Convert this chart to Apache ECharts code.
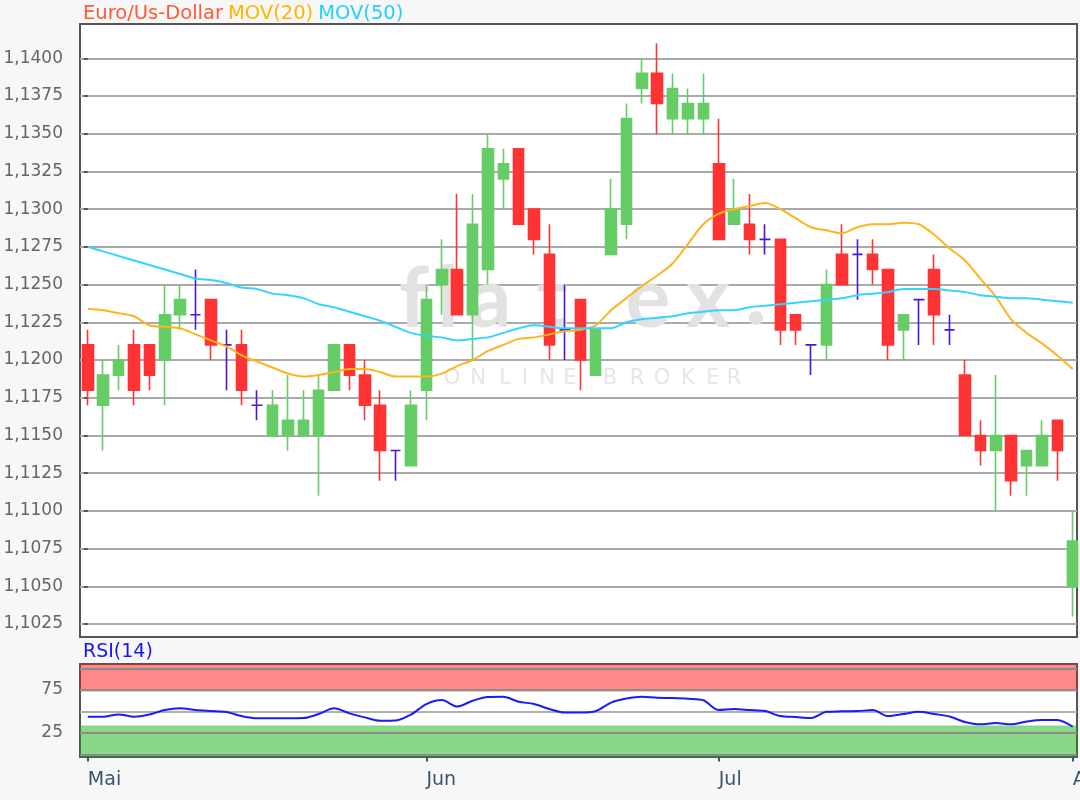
<!DOCTYPE html>
<html>
<head>
<meta charset="utf-8">
<script src="https://cdn.jsdelivr.net/npm/echarts@6/dist/echarts.min.js"></script>
<style>
html,body{margin:0;padding:0;background:#f7f7f7;}
#chart{width:1080px;height:800px;}
</style>
</head>
<body>
<div id="chart"></div>
<script>
// ---------- data ----------
const dates = [
  '2019-05-02','2019-05-03','2019-05-06','2019-05-07','2019-05-08','2019-05-09','2019-05-10',
  '2019-05-13','2019-05-14','2019-05-15','2019-05-16','2019-05-17','2019-05-20','2019-05-21',
  '2019-05-22','2019-05-23','2019-05-24','2019-05-27','2019-05-28','2019-05-29','2019-05-30','2019-05-31',
  '2019-06-03','2019-06-04','2019-06-05','2019-06-06','2019-06-07','2019-06-11','2019-06-12',
  '2019-06-13','2019-06-14','2019-06-17','2019-06-18','2019-06-19','2019-06-20','2019-06-21',
  '2019-06-24','2019-06-25','2019-06-26','2019-06-27','2019-06-28',
  '2019-07-01','2019-07-02','2019-07-03','2019-07-04','2019-07-05','2019-07-08','2019-07-09',
  '2019-07-10','2019-07-11','2019-07-12','2019-07-15','2019-07-16','2019-07-17','2019-07-18',
  '2019-07-19','2019-07-22','2019-07-23','2019-07-24','2019-07-25','2019-07-26','2019-07-29',
  '2019-07-30','2019-07-31',
  '2019-08-01'
];
const openP = [
  1.1210,1.1170,1.1190,1.1210,1.1210,1.1200,1.1230,1.1230,1.1240,1.1210,1.1210,1.1170,1.1150,1.1150,
  1.1150,1.1150,1.1180,1.1210,1.1190,1.1170,1.1140,1.1130,
  1.1180,1.1250,1.1260,1.1230,1.1260,1.1320,1.1340,1.1300,1.1270,1.1220,1.1240,1.1190,1.1270,1.1290,
  1.1380,1.1390,1.1360,1.1360,1.1360,
  1.1330,1.1290,1.1290,1.1280,1.1280,1.1230,1.1210,1.1210,1.1270,1.1270,1.1270,1.1260,1.1220,1.1240,
  1.1260,1.1220,1.1190,1.1150,1.1140,1.1150,1.1130,1.1130,1.1160,
  1.1050
];
const closeP = [
  1.1180,1.1190,1.1200,1.1180,1.1190,1.1230,1.1240,1.1230,1.1210,1.1210,1.1180,1.1170,1.1170,1.1160,
  1.1160,1.1180,1.1210,1.1190,1.1170,1.1140,1.1140,1.1170,
  1.1240,1.1260,1.1230,1.1290,1.1340,1.1330,1.1290,1.1280,1.1210,1.1220,1.1200,1.1220,1.1300,1.1360,
  1.1390,1.1370,1.1380,1.1370,1.1370,
  1.1280,1.1300,1.1280,1.1280,1.1220,1.1220,1.1210,1.1250,1.1250,1.1270,1.1260,1.1210,1.1230,1.1240,
  1.1230,1.1220,1.1150,1.1140,1.1150,1.1120,1.1140,1.1150,1.1140,
  1.1080
];
const lowP = [
  1.1170,1.1140,1.1180,1.1170,1.1180,1.1170,1.1220,1.1220,1.1200,1.1180,1.1170,1.1160,1.1150,1.1140,
  1.1150,1.1110,1.1180,1.1180,1.1160,1.1120,1.1120,1.1130,
  1.1160,1.1230,1.1230,1.1200,1.1250,1.1300,1.1290,1.1270,1.1200,1.1200,1.1180,1.1190,1.1270,1.1280,
  1.1370,1.1350,1.1350,1.1350,1.1350,
  1.1280,1.1290,1.1270,1.1270,1.1210,1.1210,1.1190,1.1200,1.1250,1.1240,1.1250,1.1200,1.1200,1.1210,
  1.1210,1.1210,1.1150,1.1130,1.1100,1.1110,1.1110,1.1130,1.1120,
  1.1030
];
const highP = [
  1.1220,1.1200,1.1210,1.1220,1.1210,1.1250,1.1250,1.1260,1.1240,1.1220,1.1220,1.1180,1.1180,1.1190,
  1.1180,1.1190,1.1210,1.1210,1.1200,1.1180,1.1140,1.1180,
  1.1250,1.1280,1.1310,1.1310,1.1350,1.1340,1.1340,1.1300,1.1290,1.1250,1.1240,1.1220,1.1320,1.1370,
  1.1400,1.1410,1.1390,1.1380,1.1390,
  1.1360,1.1320,1.1310,1.1290,1.1280,1.1230,1.1210,1.1260,1.1290,1.1280,1.1280,1.1260,1.1230,1.1240,
  1.1270,1.1230,1.1200,1.1160,1.1190,1.1150,1.1140,1.1160,1.1160,
  1.1100
];
const ma20 = [
  1.1234,1.1233,1.1231,1.1229,1.1223,1.1222,1.1221,1.1217,1.1213,1.1209,1.1203,1.1199,1.1195,1.1191,
  1.1189,1.1190,1.1192,1.1194,1.1194,1.1192,1.1189,1.1189,
  1.1189,1.1191,1.1196,1.1200,1.1206,1.1210,1.1214,1.1215,1.1217,1.1219,1.1220,1.1223,1.1233,1.1241,
  1.1249,1.1256,1.1264,1.1277,1.1290,
  1.1297,1.1300,1.1302,1.1304,1.1300,1.1294,1.1288,1.1286,1.1284,1.1288,1.1290,1.1290,1.1291,1.1290,
  1.1283,1.1274,1.1266,1.1254,1.1242,1.1227,1.1218,1.1211,1.1203,
  1.1194
];
const ma50 = [
  1.1275,1.1272,1.1269,1.1266,1.1263,1.1260,1.1257,1.1254,1.1253,1.1251,1.1248,1.1247,1.1244,1.1243,
  1.1241,1.1237,1.1235,1.1232,1.1229,1.1226,1.1222,1.1218,
  1.1216,1.1215,1.1213,1.1214,1.1215,1.1218,1.1221,1.1223,1.1222,1.1221,1.1221,1.1221,1.1221,1.1225,
  1.1227,1.1228,1.1229,1.1231,1.1232,
  1.1233,1.1233,1.1235,1.1236,1.1237,1.1238,1.1239,1.1240,1.1241,1.1243,1.1244,1.1245,1.1247,1.1247,
  1.1247,1.1246,1.1245,1.1243,1.1242,1.1241,1.1241,1.1240,1.1239,
  1.1238
];
const rsi14 = [
  43.7,43.7,46.5,43.7,46.3,51.5,53.5,51.5,50.3,49.2,44.5,41.9,41.9,41.9,
  42.2,46.9,53.5,47.7,43.0,39.1,39.3,46.3,
  58.5,63.1,55.6,62.3,66.6,67.0,61.2,58.5,52.7,48.6,48.6,50.3,60.2,64.9,
  67.0,65.8,65.5,64.7,62.9,
  51.5,52.7,51.5,50.3,44.5,43.4,42.2,49.5,50.0,50.3,51.5,44.5,46.9,49.5,
  46.9,44.0,37.6,34.9,36.4,34.9,38.1,39.9,39.9,
  32.1
];
const priceTicks = [1.1025,1.1050,1.1075,1.1100,1.1125,1.1150,1.1175,1.1200,
                    1.1225,1.1250,1.1275,1.1300,1.1325,1.1350,1.1375,1.1400];
const rsiTicks = [25, 75];
const rsiGridLines = [0, 25, 50, 75, 100];
const rsiOverbought = [73, 105];
const rsiOversold = [-3, 33.5];
const monthNames = {'05':'Mai','06':'Jun','07':'Jul','08':'Aug'};

// ---------- derived ----------
const monthStarts = [];
const monthLabel = {};
dates.forEach((d, i) => {
  const m = d.slice(5, 7);
  if (i === 0 || dates[i - 1].slice(5, 7) !== m) { monthStarts.push(i); monthLabel[i] = monthNames[m]; }
});
const candleData = dates.map((d, i) => [i, openP[i], closeP[i], lowP[i], highP[i]]);
const ma20Data = dates.map((d, i) => [i, ma20[i]]);
const ma50Data = dates.map((d, i) => [i, ma50[i]]);
const rsiData = dates.map((d, i) => [i, rsi14[i]]);

const FONT = 'DejaVu Sans';
const XMIN = -0.51, XMAX = 64.28;

// watermark letters (decoration)
const wmBig = [['f',414],['l',448],['a',490],['t',552],['e',648],['x',708]];
const wmSmall = [['O',452],['N',478],['L',505],['I',525],['N',547],['E',570],
                 ['B',610],['R',637],['O',662],['K',688],['E',713],['R',734]];
const graphics = [];
wmBig.forEach(([ch, x]) => graphics.push({
  type:'text', z:1, silent:true,
  style:{text:ch, x:x, y:342, fill:'#e2e2e2', font:'bold 84px Lato', textAlign:'center', textVerticalAlign:'bottom'}
}));
graphics.push({type:'circle', z:1, silent:true, shape:{cx:756, cy:318, r:7}, style:{fill:'#e2e2e2'}});
wmSmall.forEach(([ch, x]) => graphics.push({
  type:'text', z:1, silent:true,
  style:{text:ch, x:x, y:389, fill:'#e6e6e6', font:'21px "DejaVu Sans"', textAlign:'center', textVerticalAlign:'bottom'}
}));

const chart = echarts.init(document.getElementById('chart'), null, {renderer:'canvas'});
chart.setOption({
  backgroundColor:'#f7f7f7',
  animation:false,
  graphic: graphics,
  title:[
    {left:83, top:4, padding:0, text:'{a|Euro/Us-Dollar} {b|MOV(20)} {c|MOV(50)}',
     textStyle:{fontWeight:'normal', rich:{
       a:{color:'#ff5a36', fontSize:19.5, fontFamily:FONT, fontWeight:'normal'},
       b:{color:'#ffb400', fontSize:19.5, fontFamily:FONT, fontWeight:'normal'},
       c:{color:'#22d0ff', fontSize:19.5, fontFamily:FONT, fontWeight:'normal'}
     }}},
    {left:83, top:643, padding:0, text:'RSI(14)', textStyle:{color:'#1414ff', fontSize:19, fontFamily:FONT, fontWeight:'normal'}}
  ],
  grid:[
    {left:80, right:3, top:24, height:613, show:true, backgroundColor:'#ffffff', borderColor:'#555', borderWidth:2,
     containLabel:false, outerBoundsMode:'none'},
    {left:80, right:3, top:664, height:93, show:true, backgroundColor:'#ffffff', borderColor:'#555', borderWidth:2,
     containLabel:false, outerBoundsMode:'none'}
  ],
  xAxis:[
    {type:'value', gridIndex:0, min:XMIN, max:XMAX, axisLine:{show:false}, axisTick:{show:false},
     axisLabel:{show:false}, splitLine:{show:false}},
    {type:'value', gridIndex:1, min:XMIN, max:XMAX, axisLine:{show:false},
     axisTick:{show:true, customValues:monthStarts, length:7, lineStyle:{color:'#3b536b', width:2}},
     axisLabel:{customValues:monthStarts, formatter:v => monthLabel[Math.round(v)] || '', align:'left',
       margin:14, color:'#3b536b', fontSize:19, fontFamily:FONT, hideOverlap:false},
     splitLine:{show:false}}
  ],
  yAxis:[
    {type:'value', gridIndex:0, min:1.101638, max:1.142274, axisLine:{show:false},
     axisTick:{show:true, customValues:priceTicks, length:4, lineStyle:{color:'#555', width:2}},
     axisLabel:{customValues:priceTicks, formatter:v => v.toFixed(4).replace('.', ','),
       color:'#666', fontSize:17, fontFamily:FONT, margin:17},
     splitLine:{show:true, lineStyle:{color:'#aaaaaa', width:2}}},
    {type:'value', gridIndex:1, min:-3, max:105, axisLine:{show:false},
     axisTick:{show:true, customValues:rsiTicks, length:4, lineStyle:{color:'#555', width:2}},
     axisLabel:{customValues:rsiTicks, color:'#666', fontSize:17, fontFamily:FONT, margin:17},
     splitLine:{show:false}}
  ],
  series:[
    {type:'candlestick', name:'Euro/Us-Dollar', xAxisIndex:0, yAxisIndex:0, data:candleData,
     encode:{x:0, y:[1,2,3,4]}, barWidth:11, z:3,
     itemStyle:{color:'#66cc66', color0:'#ff3333', borderColor:'#66cc66', borderColor0:'#ff3333',
       borderColorDoji:'#4a17d6', borderWidth:1.6}},
    {type:'line', name:'MOV(20)', xAxisIndex:0, yAxisIndex:0, data:ma20Data, symbol:'none', smooth:0.3, z:4,
     lineStyle:{color:'#ffb41e', width:2}},
    {type:'line', name:'MOV(50)', xAxisIndex:0, yAxisIndex:0, data:ma50Data, symbol:'none', smooth:0.3, z:4,
     lineStyle:{color:'#33d4ff', width:2}},
    {type:'line', name:'rsiGrid', xAxisIndex:1, yAxisIndex:1, data:[], z:2, silent:true,
     markLine:{silent:true, symbol:'none', label:{show:false},
       lineStyle:{color:'#8c8c8c', width:2, type:'solid'},
       data:rsiGridLines.map(v => ({yAxis:v, lineStyle:{color: v === 50 ? '#b0b0b0' : '#8c8c8c'}}))}},
    {type:'line', name:'rsiBands', xAxisIndex:1, yAxisIndex:1, data:[], z:3, silent:true,
     markArea:{silent:true, data:[
       [{yAxis:rsiOverbought[0], itemStyle:{color:'rgba(255,17,17,0.5)'}}, {yAxis:rsiOverbought[1]}],
       [{yAxis:rsiOversold[0], itemStyle:{color:'rgba(17,177,17,0.5)'}}, {yAxis:rsiOversold[1]}]
     ]}},
    {type:'line', name:'RSI(14)', xAxisIndex:1, yAxisIndex:1, data:rsiData, symbol:'none', smooth:0.3, z:5,
     lineStyle:{color:'#1a1aff', width:2}}
  ]
});
</script>
</body>
</html>
